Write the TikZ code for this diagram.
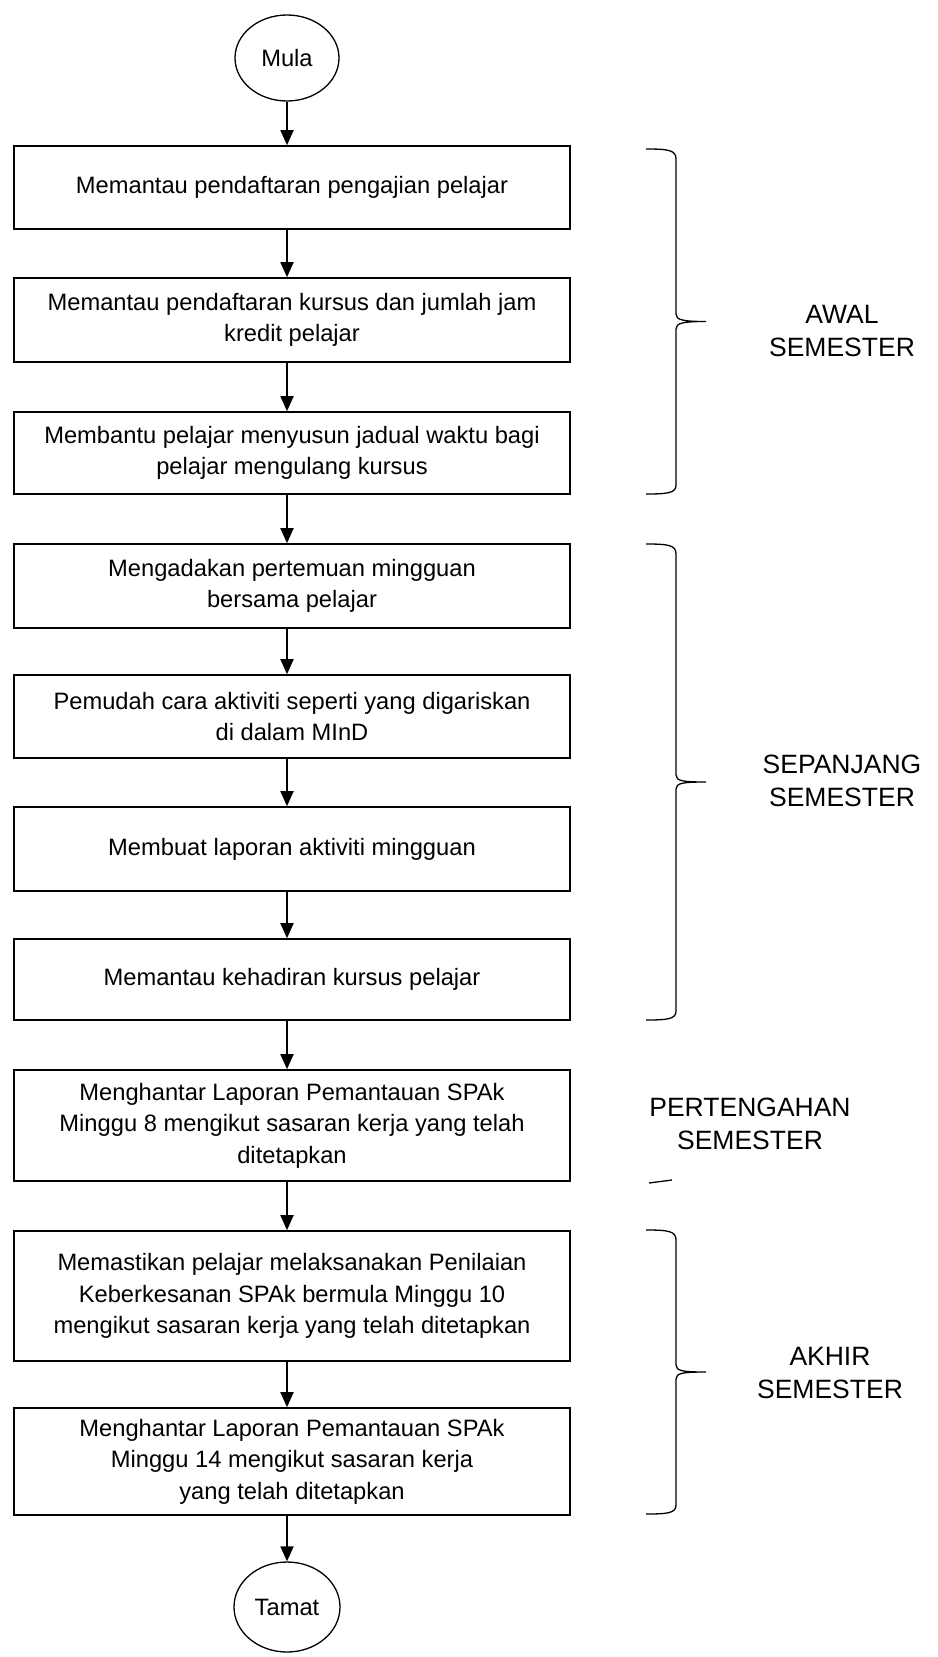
\documentclass[tikz,border=0pt]{standalone}
\usepackage{fontspec}
\setmainfont{Liberation Sans}
\usetikzlibrary{arrows.meta,shapes.geometric}
\tikzset{
  stepbox/.style={draw, line width=1.6pt, rectangle, inner sep=0pt, minimum width=556pt, align=center, font=\fontsize{23.7}{31.5}\selectfont},
  term/.style={draw, line width=1.3pt, ellipse, inner sep=0pt, minimum width=104pt, minimum height=86pt, font=\fontsize{23.7}{31.5}\selectfont},
  arr/.style={line width=1.8pt, -{Triangle[width=13pt,length=15pt]}},
  lab/.style={align=center, inner sep=0pt, font=\fontsize{26.5}{33}\selectfont},
  bracepath/.style={line width=1.3pt}
}
\begin{document}
\begin{tikzpicture}[x=1pt,y=-1pt]
\useasboundingbox (0,0) rectangle (937,1657);
\node[term] (mula) at (287,58) {Mula};
\node[stepbox, minimum height=83pt] (b1) at (292,187.5) {Memantau pendaftaran pengajian pelajar};
\node[stepbox, minimum height=84pt] (b2) at (292,320) {Memantau pendaftaran kursus dan jumlah jam\\kredit pelajar};
\node[stepbox, minimum height=82pt] (b3) at (292,453) {Membantu pelajar menyusun jadual waktu bagi\\pelajar mengulang kursus};
\node[stepbox, minimum height=84pt] (b4) at (292,586) {Mengadakan pertemuan mingguan\\bersama pelajar};
\node[stepbox, minimum height=83pt] (b5) at (292,716.5) {Pemudah cara aktiviti seperti yang digariskan\\di dalam MInD};
\node[stepbox, minimum height=84pt] (b6) at (292,849) {Membuat laporan aktiviti mingguan};
\node[stepbox, minimum height=81pt] (b7) at (292,979.5) {Memantau kehadiran kursus pelajar};
\node[stepbox, minimum height=111pt] (b8) at (292,1125.5) {Menghantar Laporan Pemantauan SPAk\\Minggu 8 mengikut sasaran kerja yang telah\\ditetapkan};
\node[stepbox, minimum height=130pt] (b9) at (292,1296) {Memastikan pelajar melaksanakan Penilaian\\Keberkesanan SPAk bermula Minggu 10\\mengikut sasaran kerja yang telah ditetapkan};
\node[stepbox, minimum height=107pt] (b10) at (292,1461.5) {Menghantar Laporan Pemantauan SPAk\\Minggu 14 mengikut sasaran kerja\\yang telah ditetapkan};
\node[term, minimum width=106pt, minimum height=90pt] (tamat) at (287,1607) {Tamat};

\draw[arr] (mula.south) -- (b1.north -| mula);
\draw[arr] (b1.south -| mula) -- (b2.north -| mula);
\draw[arr] (b2.south -| mula) -- (b3.north -| mula);
\draw[arr] (b3.south -| mula) -- (b4.north -| mula);
\draw[arr] (b4.south -| mula) -- (b5.north -| mula);
\draw[arr] (b5.south -| mula) -- (b6.north -| mula);
\draw[arr] (b6.south -| mula) -- (b7.north -| mula);
\draw[arr] (b7.south -| mula) -- (b8.north -| mula);
\draw[arr] (b8.south -| mula) -- (b9.north -| mula);
\draw[arr] (b9.south -| mula) -- (b10.north -| mula);
\draw[arr] (b10.south -| mula) -- (tamat.north);

% braces
\draw[bracepath] (646,149) .. controls (668,149) and (676,150) .. (676,159) -- (676,314) .. controls (676,320) and (683,321.5) .. (706,321.5) .. controls (683,321.5) and (676,323) .. (676,329) -- (676,485) .. controls (676,493) and (668,494) .. (646,494);
\draw[bracepath] (646,544) .. controls (668,544) and (676,545) .. (676,554) -- (676,775) .. controls (676,781) and (683,782) .. (706,782) .. controls (683,782) and (676,783) .. (676,789) -- (676,1011) .. controls (676,1019) and (668,1020) .. (646,1020);
\draw[bracepath] (646,1230) .. controls (668,1230) and (676,1231) .. (676,1240) -- (676,1365) .. controls (676,1371) and (683,1372) .. (706,1372) .. controls (683,1372) and (676,1373) .. (676,1379) -- (676,1505) .. controls (676,1513) and (668,1514) .. (646,1514);
\draw[bracepath] (649,1183) .. controls (660,1182) .. (672,1180);

\node[lab] (awal) at (842,331) {AWAL\\SEMESTER};
\node[lab] (sepanjang) at (842,781) {SEPANJANG\\SEMESTER};
\node[lab] (pertengahan) at (750,1124) {PERTENGAHAN\\SEMESTER};
\node[lab] (akhir) at (830,1373) {AKHIR\\SEMESTER};
\end{tikzpicture}
\end{document}
